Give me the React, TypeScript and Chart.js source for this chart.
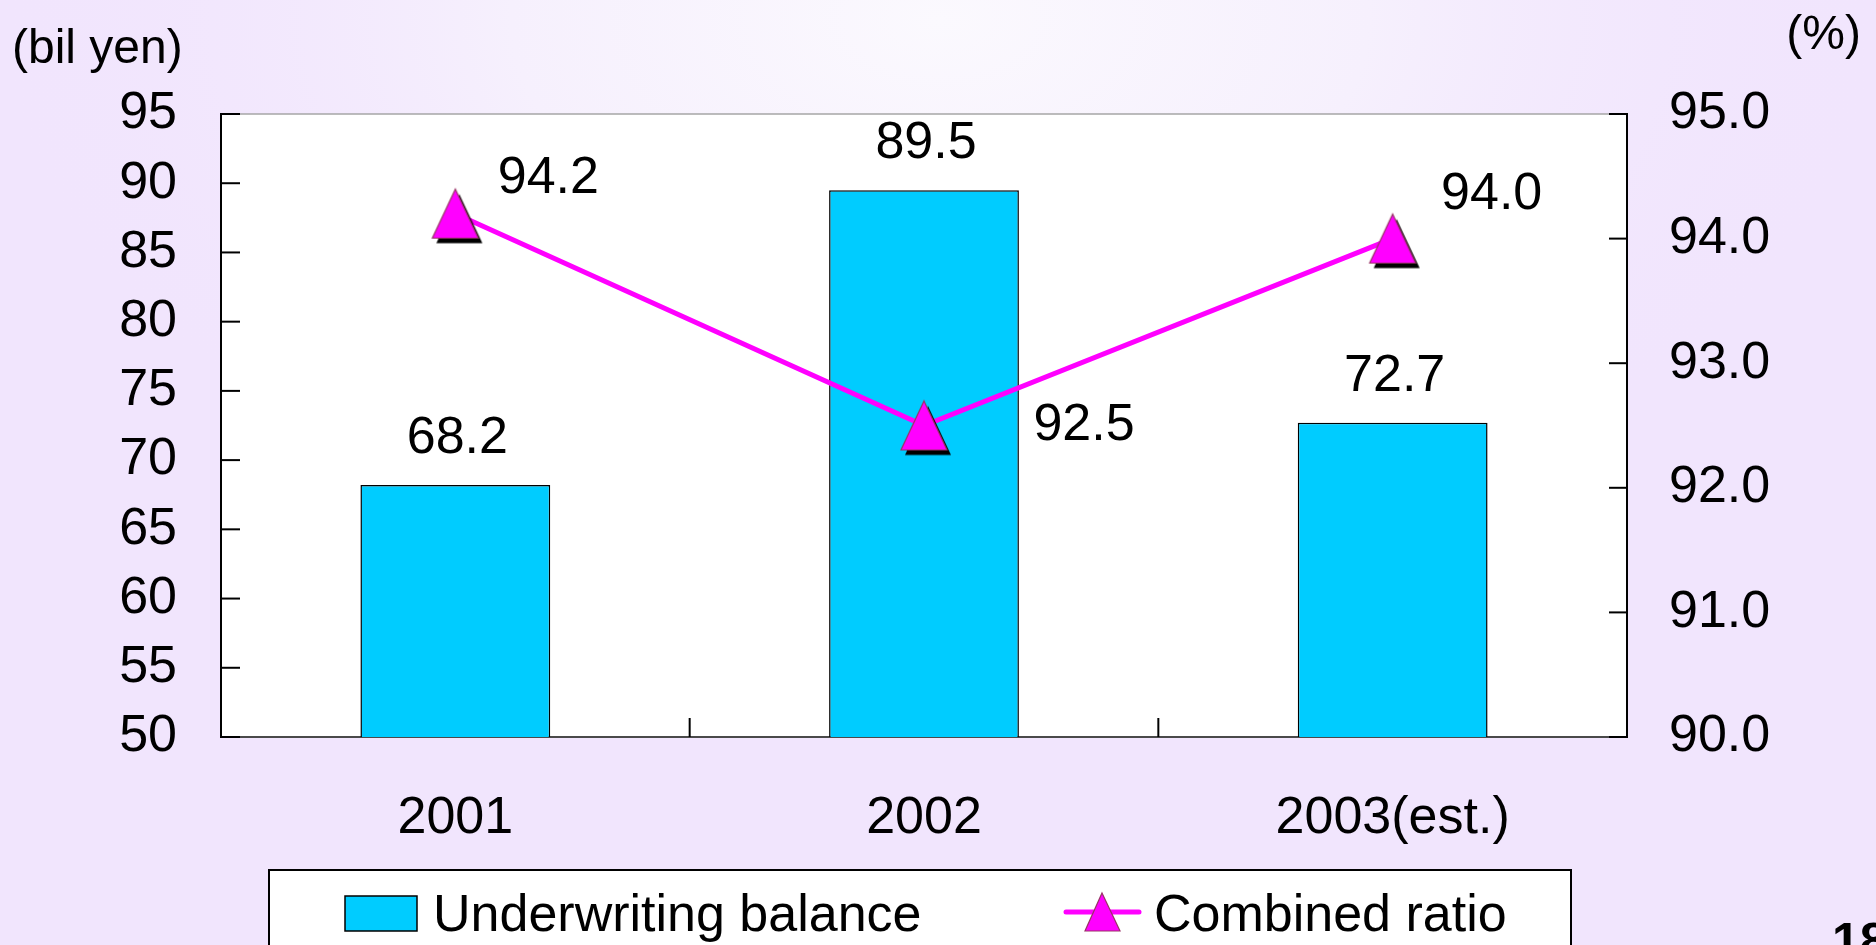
import React, { useEffect, useRef } from "react";
import { Chart, registerables } from "chart.js";

Chart.register(...registerables);

// ---- data ----
const years = ["2001", "2002", "2003(est.)"];
const underwritingBalance = [68.2, 89.5, 72.7]; // bil yen
const combinedRatio = [94.2, 92.5, 94.0]; // %
const balanceRange = [50, 95];
const balanceStep = 5;
const ratioRange = [90, 95];
const ratioStep = 1;
const seriesNames = ["Underwriting balance", "Combined ratio"];
const leftUnit = "(bil yen)";
const rightUnit = "(%)";
const pageNumber = "18";

// ---- styling ----
const FONT = '"Liberation Sans", Arial, Helvetica, sans-serif';
const BAR_BLUE = "#00CCFF";
const MAGENTA = "#FF00FF";
const MARKER_EDGE = "#993366";
const TEXT_SIZE = 52;
// where each ratio label sits relative to its marker
const ratioLabelOffsets = [
  [93, -35],
  [160, 0],
  [99, -44],
];

const W = 1876;
const H = 945;

function makeTriangleMarker(): HTMLCanvasElement {
  const c = document.createElement("canvas");
  c.width = 64;
  c.height = 64;
  const g = c.getContext("2d")!;
  const cx = 32;
  const cy = 32;
  const hw = 23;
  const hh = 24.5;
  const tri = (dx: number, dy: number) => {
    g.beginPath();
    g.moveTo(cx + dx, cy - hh + dy);
    g.lineTo(cx + hw + dx, cy + hh + dy);
    g.lineTo(cx - hw + dx, cy + hh + dy);
    g.closePath();
  };
  // drop shadow
  tri(4, 5);
  g.fillStyle = "#000";
  g.fill();
  tri(0, 0);
  g.fillStyle = MAGENTA;
  g.fill();
  g.lineWidth = 1.2;
  g.strokeStyle = MARKER_EDGE;
  g.stroke();
  return c;
}

function seg(ctx: CanvasRenderingContext2D, x1: number, y1: number, x2: number, y2: number, color: string, w: number) {
  ctx.beginPath();
  ctx.moveTo(x1, y1);
  ctx.lineTo(x2, y2);
  ctx.strokeStyle = color;
  ctx.lineWidth = w;
  ctx.stroke();
}

const backdropPlugin = {
  id: "backdrop",
  beforeDraw(chart: any) {
    const ctx: CanvasRenderingContext2D = chart.ctx;
    ctx.save();
    ctx.fillStyle = "#F1E5FD";
    ctx.fillRect(0, 0, chart.width, chart.height);
    ctx.translate(940, 20);
    ctx.scale(1.7, 1);
    const g = ctx.createRadialGradient(0, 0, 0, 0, 0, 560);
    g.addColorStop(0, "#FBF9FE");
    g.addColorStop(0.45, "#F6F0FD");
    g.addColorStop(1, "rgba(241,229,253,0)");
    ctx.fillStyle = g;
    ctx.fillRect(-940 / 1.7, -20, chart.width / 1.7, chart.height);
    ctx.restore();
  },
};

const framePlugin = {
  id: "frame",
  beforeDatasetsDraw(chart: any) {
    const ctx: CanvasRenderingContext2D = chart.ctx;
    const { left, right, top, bottom } = chart.chartArea;
    ctx.save();
    ctx.fillStyle = "#FFFFFF";
    ctx.fillRect(left, top, right - left, bottom - top);
    seg(ctx, left, top, right, top, "#A6A6A6", 1.5);
    seg(ctx, left, bottom, right, bottom, "#4A4A4A", 2);
    seg(ctx, left, top - 1, left, bottom + 1, "#000", 2);
    seg(ctx, right, top - 1, right, bottom + 1, "#000", 2);

    const yl = chart.scales.y;
    yl.ticks.forEach((_t: any, i: number) => {
      const py = yl.getPixelForTick(i);
      seg(ctx, left, py, left + 19, py, "#000", 2);
    });
    const yr = chart.scales.y1;
    yr.ticks.forEach((_t: any, i: number) => {
      const py = yr.getPixelForTick(i);
      seg(ctx, right - 18, py, right, py, "#000", 2);
    });
    const xs = chart.scales.x;
    for (let i = 0; i < xs.ticks.length - 1; i++) {
      const px = (xs.getPixelForTick(i) + xs.getPixelForTick(i + 1)) / 2;
      seg(ctx, px, bottom, px, bottom - 19, "#000", 2);
    }
    ctx.restore();
  },
};

const annotationPlugin = {
  id: "annotations",
  afterDatasetsDraw(chart: any) {
    const ctx: CanvasRenderingContext2D = chart.ctx;
    ctx.save();
    ctx.fillStyle = "#000";
    ctx.font = `${TEXT_SIZE}px ${FONT}`;

    // bar values above each bar
    ctx.textAlign = "center";
    ctx.textBaseline = "alphabetic";
    const bars = chart.getDatasetMeta(0).data;
    bars.forEach((bar: any, i: number) => {
      ctx.fillText(underwritingBalance[i].toFixed(1), bar.x + 2, bar.y - 32);
    });

    // combined ratio values beside each marker
    ctx.textBaseline = "middle";
    const pts = chart.getDatasetMeta(1).data;
    pts.forEach((pt: any, i: number) => {
      const [dx, dy] = ratioLabelOffsets[i];
      ctx.fillText(combinedRatio[i].toFixed(1), pt.x + dx, pt.y + dy);
    });

    // axis units
    ctx.font = `48px ${FONT}`;
    ctx.textBaseline = "alphabetic";
    ctx.textAlign = "left";
    ctx.fillText(leftUnit, 12, 63);
    ctx.textAlign = "right";
    ctx.fillText(rightUnit, 1861, 49);

    // legend box
    ctx.fillStyle = "#FFFFFF";
    ctx.fillRect(269, 870, 1302, 120);
    ctx.strokeStyle = "#000";
    ctx.lineWidth = 2;
    ctx.strokeRect(269, 870, 1302, 120);

    ctx.fillStyle = BAR_BLUE;
    ctx.fillRect(345, 896, 72, 35);
    ctx.lineWidth = 1.5;
    ctx.strokeStyle = "#000";
    ctx.strokeRect(345, 896, 72, 35);

    ctx.beginPath();
    ctx.moveTo(1066, 912);
    ctx.lineTo(1139, 912);
    ctx.lineCap = "round";
    ctx.lineWidth = 5;
    ctx.strokeStyle = MAGENTA;
    ctx.stroke();
    ctx.lineCap = "butt";
    ctx.beginPath();
    ctx.moveTo(1102, 893);
    ctx.lineTo(1120, 931);
    ctx.lineTo(1085, 931);
    ctx.closePath();
    ctx.fillStyle = MAGENTA;
    ctx.fill();
    ctx.lineWidth = 1.2;
    ctx.strokeStyle = MARKER_EDGE;
    ctx.stroke();

    ctx.fillStyle = "#000";
    ctx.font = `${TEXT_SIZE}px ${FONT}`;
    ctx.textAlign = "left";
    ctx.textBaseline = "middle";
    ctx.fillText(seriesNames[0], 433, 917);
    ctx.fillText(seriesNames[1], 1154, 917);

    // page number
    ctx.font = `bold 50px ${FONT}`;
    ctx.textBaseline = "alphabetic";
    ctx.fillText(pageNumber, 1832, 958);
    ctx.restore();
  },
};

export default function App() {
  const canvasRef = useRef<HTMLCanvasElement | null>(null);

  useEffect(() => {
    const canvas = canvasRef.current;
    if (!canvas) return;
    const marker = makeTriangleMarker();
    const tickFont = { family: FONT, size: TEXT_SIZE };
    const noGrid = { display: false, drawTicks: false };

    const chart = new Chart(canvas, {
      type: "bar",
      data: {
        labels: years,
        datasets: [
          {
            type: "bar",
            label: seriesNames[0],
            data: underwritingBalance,
            yAxisID: "y",
            backgroundColor: BAR_BLUE,
            borderColor: "#000",
            borderWidth: 1.5,
            barPercentage: 0.405,
            categoryPercentage: 1,
            order: 1,
          },
          {
            type: "line",
            label: seriesNames[1],
            data: combinedRatio,
            yAxisID: "y1",
            borderColor: MAGENTA,
            borderWidth: 5,
            tension: 0,
            pointStyle: marker as any,
            pointRadius: 25,
            pointHoverRadius: 25,
            order: 0,
          },
        ],
      },
      options: {
        responsive: false,
        animation: false,
        devicePixelRatio: 1,
        layout: { padding: { top: 114, left: 0, right: 0, bottom: 0 } },
        plugins: {
          legend: { display: false },
          tooltip: { enabled: false },
        },
        scales: {
          x: {
            type: "category",
            offset: true,
            grid: noGrid,
            border: { display: false },
            ticks: { font: tickFont, color: "#000", padding: 50, maxRotation: 0 },
            afterFit(scale: any) {
              scale.height = H - 737;
            },
          },
          y: {
            position: "left",
            min: balanceRange[0],
            max: balanceRange[1],
            grid: noGrid,
            border: { display: false },
            ticks: { stepSize: balanceStep, font: tickFont, color: "#000", padding: 44 },
            afterFit(scale: any) {
              scale.width = 221;
            },
          },
          y1: {
            position: "right",
            min: ratioRange[0],
            max: ratioRange[1],
            grid: noGrid,
            border: { display: false },
            ticks: {
              stepSize: ratioStep,
              font: tickFont,
              color: "#000",
              padding: 42,
              callback: (v: any) => Number(v).toFixed(1),
            },
            afterFit(scale: any) {
              scale.width = W - 1627;
            },
          },
        },
      },
      plugins: [backdropPlugin, framePlugin, annotationPlugin],
    } as any);

    return () => chart.destroy();
  }, []);

  return (
    <div style={{ position: "fixed", left: 0, top: 0, width: W, height: H, overflow: "hidden" }}>
      <canvas ref={canvasRef} width={W} height={H} style={{ display: "block", width: W, height: H }} />
    </div>
  );
}
